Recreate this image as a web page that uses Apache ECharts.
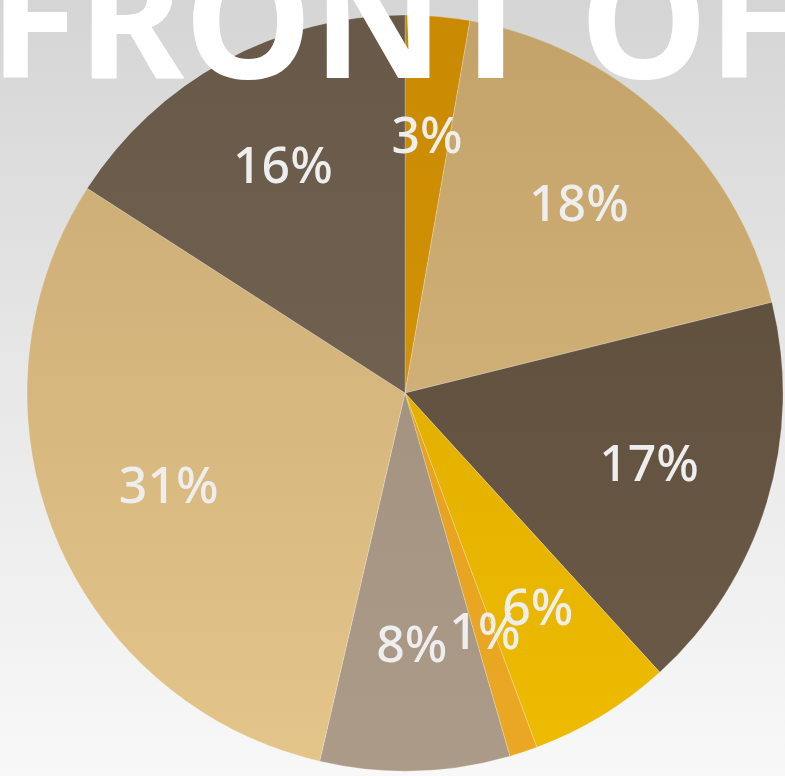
<!DOCTYPE html>
<html>
<head>
<meta charset="utf-8">
<script src="https://cdn.jsdelivr.net/npm/echarts@6/dist/echarts.min.js"></script>
<style>
  html, body { margin: 0; padding: 0; }
  body { background: linear-gradient(to bottom, #d5d5d5 0%, #e6e6e6 45%, #f8f8f8 100%); }
  #main { width: 785px; height: 776px; }
</style>
</head>
<body>
<div id="main"></div>
<script>
// slices, clockwise from 12 o'clock
const categories = ['A', 'B', 'C', 'D', 'E', 'F', 'G', 'H'];
const shares = [2.75, 18.4, 17.1, 6.1, 1.2, 8.1, 30.5, 15.9];
const labels = ['3%', '18%', '17%', '6%', '1%', '8%', '31%', '16%'];
// colour at top / bottom of the picture
const topColors = ['#c98900', '#c2a268', '#5a4a39', '#d8a400', '#de9c1a', '#9b8b78', '#c8a872', '#675848'];
const bottomColors = ['#dc9c10', '#dcbc82', '#6c5b48', '#eebc00', '#eaa824', '#ab9b88', '#e4c58a', '#796957'];

const chart = echarts.init(document.getElementById('main'), null, { renderer: 'canvas' });

const fill = (i) => new echarts.graphic.LinearGradient(0, 0, 0, 776, [
  { offset: 0, color: topColors[i] },
  { offset: 1, color: bottomColors[i] }
], true);

const pieData = categories.map((c, i) => ({
  name: c,
  value: shares[i],
  itemStyle: { color: fill(i) }
}));

const labelData = categories.map((c, i) => ({
  name: c,
  value: shares[i],
  label: { formatter: labels[i] }
}));

const option = {
  backgroundColor: 'transparent',
  animation: false,
  title: {
    text: 'FRONT OF',
    left: -16,
    top: -54,
    textStyle: {
      color: '#ffffff',
      fontFamily: 'Noto Sans',
      fontWeight: 'bold',
      fontSize: 162,
      lineHeight: 162
    }
  },
  series: [
    {
      type: 'pie',
      center: [405, 393],
      radius: [0, 378],
      startAngle: 90,
      clockwise: true,
      silent: true,
      label: { show: false },
      labelLine: { show: false },
      itemStyle: { borderColor: 'rgba(255,255,255,0.35)', borderWidth: 0.6 },
      data: pieData
    },
    {
      // invisible ring only used to put labels at ~2/3 of the radius
      type: 'pie',
      center: [405, 393],
      radius: [0, 504],
      startAngle: 90,
      clockwise: true,
      silent: true,
      avoidLabelOverlap: false,
      minShowLabelAngle: 0,
      labelLayout: { hideOverlap: false },
      itemStyle: { color: 'transparent', borderWidth: 0 },
      labelLine: { show: false },
      label: {
        show: true,
        position: 'inside',
        color: '#eeeeee',
        fontFamily: 'Noto Sans',
        fontWeight: 500,
        fontSize: 50
      },
      data: labelData
    }
  ]
};

chart.setOption(option);
window.addEventListener('resize', chart.resize);
</script>
</body>
</html>
